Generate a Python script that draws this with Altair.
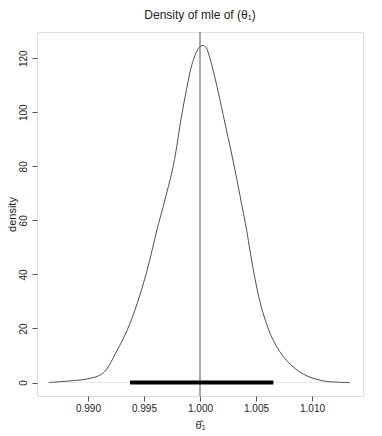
import altair as alt
import pandas as pd

# density curve of the mle
x_vals = [0.98649, 0.98842, 0.98991, 0.99095, 0.99155, 0.99259, 0.99348, 0.99438,
          0.99527, 0.99616, 0.99673, 0.99762, 0.99836, 0.99881, 0.99926, 0.99985,
          1.00018, 1.00050, 1.00089, 1.00149, 1.00208, 1.00298, 1.00357, 1.00417,
          1.00446, 1.00506, 1.00565, 1.00655, 1.00774, 1.00923, 1.01101, 1.01339]
dens_vals = [0.0, 0.6, 1.3, 2.5, 4.3, 11.8, 19.2, 29.1,
             41.4, 56.5, 65.4, 80.3, 98.8, 108.7, 117.4, 123.6,
             124.7, 124.2, 119.9, 110.0, 98.8, 81.5, 69.2, 56.2,
             48.9, 35.3, 25.4, 15.5, 8.1, 3.1, 0.6, 0.0]

# interval bar and reference line
ci_low = [0.99375]
ci_high = [1.00655]
true_value = [1.000]

x_ticks = [0.990, 0.995, 1.000, 1.005, 1.010]
y_ticks = [0, 20, 40, 60, 80, 100, 120]
x_domain = [0.98545, 1.01455]
y_domain = [-4.99, 129.7]

curve_df = pd.DataFrame({"x": x_vals, "density": dens_vals})
ci_df = pd.DataFrame({"lo": ci_low, "hi": ci_high, "y": [0.0]})
vline_df = pd.DataFrame({"x": true_value})
zero_df = pd.DataFrame({"lo": [x_vals[0]], "hi": [x_vals[-1]], "y": [0.0]})
title_df = pd.DataFrame({"t": ["Density of mle of (θ₁)"]})

FONT = "Liberation Sans"

xscale = alt.Scale(domain=x_domain, nice=False, zero=False)
yscale = alt.Scale(domain=y_domain, nice=False, zero=False)

x_axis = alt.Axis(values=x_ticks, format=".3f", grid=False, domain=False,
                  tickSize=5, tickColor="#555555", labelPadding=2,
                  labelFontSize=10, labelFont=FONT, labelColor="#222222",
                  title="θ̂₁", titleFont=FONT, titleFontSize=11,
                  titleFontWeight="normal", titlePadding=6, titleColor="#222222")
y_axis = alt.Axis(values=y_ticks, grid=False, domain=False,
                  tickSize=5, tickColor="#555555", labelPadding=4,
                  labelAngle=270, labelAlign="center", labelBaseline="bottom",
                  labelFontSize=10, labelFont=FONT, labelColor="#222222",
                  title="density", titleFont=FONT, titleFontSize=11,
                  titleFontWeight="normal", titleColor="#222222",
                  titlePadding=1)

zero_line = alt.Chart(zero_df).mark_rule(color="#e6e6e6", strokeWidth=1).encode(
    x=alt.X("lo:Q", scale=xscale, axis=x_axis),
    x2="hi:Q",
    y=alt.Y("y:Q", scale=yscale, axis=y_axis),
)

curve = alt.Chart(curve_df).mark_line(color="#505050", strokeWidth=1,
                                      interpolate="catmull-rom").encode(
    x=alt.X("x:Q", scale=xscale),
    y=alt.Y("density:Q", scale=yscale),
)

vline = alt.Chart(vline_df).mark_rule(color="#555555", strokeWidth=1).encode(
    x=alt.X("x:Q", scale=xscale),
)

ci_bar = alt.Chart(ci_df).mark_rule(color="black", strokeWidth=4).encode(
    x=alt.X("lo:Q", scale=xscale),
    x2="hi:Q",
    y=alt.Y("y:Q", scale=yscale),
)

title = alt.Chart(title_df).mark_text(font=FONT, fontSize=12, color="#222222",
                                      baseline="middle", align="center").encode(
    x=alt.value(163), y=alt.value(-17), text="t:N"
)

chart = alt.layer(zero_line, curve, vline, ci_bar, title).properties(
    width=326, height=364,
    autosize=alt.AutoSizeParams(type="none"),
    padding={"left": 29, "top": 24, "right": 11, "bottom": 40},
).configure_view(stroke="#555555", strokeWidth=1).configure(background="white")

chart.save("out.html", embed_options={"renderer": "svg", "actions": False})
